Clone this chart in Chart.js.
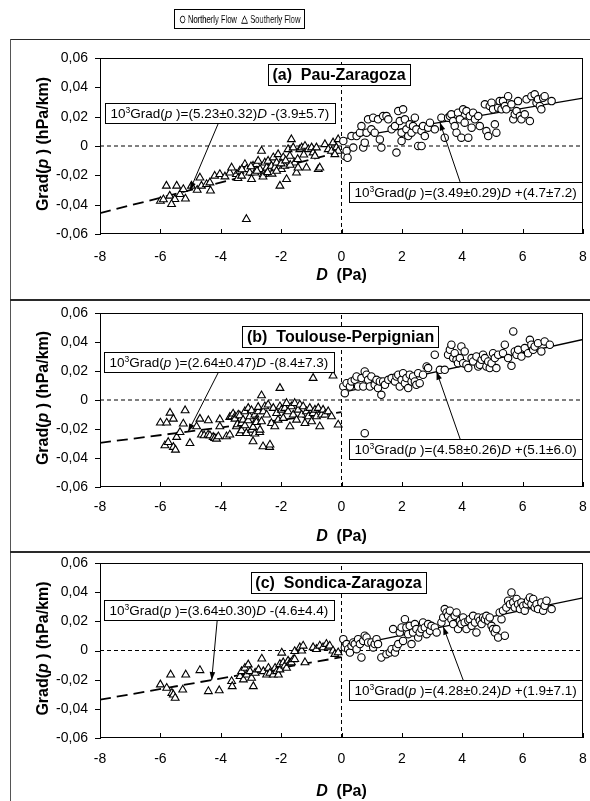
<!DOCTYPE html>
<html><head><meta charset="utf-8">
<script src="https://cdn.jsdelivr.net/npm/chart.js@4.4.1/dist/chart.umd.min.js"></script>
<style>
html,body{margin:0;padding:0;background:#fff;}
body{width:590px;height:801px;overflow:hidden;position:relative;font-family:"Liberation Sans",Arial,sans-serif;}
canvas{position:absolute;left:11px;display:block;}
.ln{position:absolute;background:#2a2a2a;}
#legend{position:absolute;left:174px;top:9px;width:129px;height:18px;border:1px solid #000;overflow:hidden;background:#fff;}
#lgtxt{position:absolute;left:50%;top:0;font-size:11px;line-height:18px;white-space:nowrap;color:#000;transform-origin:center center;will-change:transform;opacity:0.999;-webkit-font-smoothing:antialiased;}
#lgtxt svg{vertical-align:-0.5px;}
</style></head><body>
<canvas id="c0" width="579" height="259" style="top:40px"></canvas>
<canvas id="c1" width="579" height="249" style="top:302px"></canvas>
<canvas id="c2" width="579" height="247" style="top:554px"></canvas>
<div class="ln" style="left:10px;top:39px;width:580px;height:1px"></div>
<div class="ln" style="left:10px;top:39px;width:1px;height:762px;background:#555"></div>
<div class="ln" style="left:10px;top:299px;width:580px;height:2px"></div>
<div class="ln" style="left:10px;top:551px;width:580px;height:2px"></div>
<div id="legend"><span id="lgtxt"><svg width="9" height="9"><circle cx="4.5" cy="4.5" r="3.4" fill="#fff" stroke="#000" stroke-width="1"/></svg> Northerly Flow&nbsp; <svg width="10" height="9"><polygon points="5,0.8 9.3,8.3 0.7,8.3" fill="#fff" stroke="#000" stroke-width="1"/></svg> Southerly Flow</span></div>
<script>
// ---------------- data ----------------
const panelTitles = ['(a)  Pau-Zaragoza', '(b)  Toulouse-Perpignian', '(c)  Sondica-Zaragoza'];
const xTicks = [-8, -6, -4, -2, 0, 2, 4, 6, 8];
const xTickLabels = ['-8', '-6', '-4', '-2', '0', '2', '4', '6', '8'];
const yTicks = [-0.06, -0.04, -0.02, 0, 0.02, 0.04, 0.06];
const yTickLabels = ['-0,06', '-0,04', '-0,02', '0', '0,02', '0,04', '0,06'];

// regression coefficients (10^3 Grad = slope*D + const)
const northSlope = [3.49, 4.58, 4.28];
const northSlopeErr = [0.29, 0.26, 0.24];
const northConst = [4.7, 5.1, 1.9];
const northConstErr = [7.2, 6.0, 7.1];
const southSlope = [5.23, 2.64, 3.64];
const southSlopeErr = [0.32, 0.47, 0.30];
const southConst = [-3.9, -8.4, -4.6];
const southConstErr = [5.7, 7.3, 4.4];

// (a) Pau-Zaragoza  [D (Pa), Grad(p) (hPa/km)]
const northA = [[0.06,0.0034],[0.11,-0.0068],[0.17,-0.0034],[0.2,-0.008],[0.33,0.0068],[0.39,-0.0011],[0.5,0.0068],[0.61,0.0091],[0.66,0.0136],[0.72,-0.0011],[0.77,0.0023],[0.83,0.0091],[0.88,0.0182],[0.99,0.0114],[1.05,0.0193],[1.1,0.0091],[1.21,0.0182],[1.27,0.0045],[1.32,-0.0011],[1.38,0.0204],[1.49,0.0204],[1.55,0.0182],[1.66,0.0114],[1.77,0.0136],[1.82,-0.0045],[1.88,0.0238],[1.93,0.017],[1.99,0.0091],[1.99,0.0034],[2.04,0.025],[2.1,0.0182],[2.15,0.0114],[2.21,0.0068],[2.26,0.0148],[2.32,0.0091],[2.37,0.0136],[2.43,0.0193],[2.48,0.0114],[2.54,0],[2.65,0],[2.65,0.0102],[2.7,0.0136],[2.76,0.0068],[2.87,0.0125],[2.93,0.0159],[3.09,0.0114],[3.31,0.0193],[3.42,0.0057],[3.53,0.0193],[3.59,0.0204],[3.64,0.0216],[3.7,0.017],[3.75,0.0136],[3.81,0.0091],[3.86,0.0227],[3.92,0.0182],[3.97,0.0057],[4.03,0.025],[4.08,0.0159],[4.14,0.0238],[4.2,0.0057],[4.25,0.0204],[4.31,0.0125],[4.36,0.0227],[4.42,0.0182],[4.53,0.0204],[4.58,0.0136],[4.75,0.0284],[4.8,0.0102],[4.86,0.0068],[4.91,0.0272],[4.97,0.0295],[5.02,0.025],[5.08,0.0148],[5.13,0.0091],[5.19,0.0261],[5.24,0.0306],[5.3,0.025],[5.35,0.0306],[5.41,0.0272],[5.46,0.025],[5.52,0.034],[5.63,0.0284],[5.69,0.0182],[5.74,0.0216],[5.8,0.0238],[5.85,0.0306],[5.91,0.0204],[5.96,0.0182],[6.07,0.0216],[6.13,0.0318],[6.24,0.017],[6.29,0.034],[6.4,0.0352],[6.46,0.0295],[6.51,0.0318],[6.57,0.0272],[6.62,0.025],[6.68,0.0329],[6.73,0.034],[6.96,0.0306]];
const southA = [[-6.0,-0.0375],[-5.9,-0.0365],[-5.8,-0.0272],[-5.46,-0.0272],[-5.69,-0.034],[-5.52,-0.0363],[-5.35,-0.0329],[-5.63,-0.0397],[-5.24,-0.0295],[-5.17,-0.036],[-4.97,-0.0272],[-4.78,-0.030],[-4.69,-0.0216],[-4.64,-0.0272],[-4.47,-0.0261],[-4.36,-0.025],[-4.34,-0.0305],[-4.2,-0.0204],[-4.03,-0.0193],[-3.86,-0.0209],[-3.7,-0.0182],[-3.64,-0.0148],[-3.48,-0.0193],[-3.43,-0.022],[-3.37,-0.017],[-3.31,-0.0204],[-3.2,-0.0125],[-3.15,-0.0159],[-3.04,-0.0182],[-2.98,-0.0227],[-2.93,-0.0136],[-2.87,-0.0182],[-2.82,-0.0125],[-2.76,-0.0102],[-2.7,-0.0159],[-2.65,-0.0034],[-2.59,-0.0193],[-2.54,-0.0114],[-2.48,-0.0148],[-2.43,-0.0102],[-2.37,-0.017],[-2.32,-0.0136],[-2.26,-0.0079],[-2.21,-0.0148],[-2.15,-0.0114],[-2.1,-0.0057],[-2.04,-0.0272],[-1.99,-0.0159],[-1.93,-0.0079],[-1.88,-0.0136],[-1.82,-0.0227],[-1.77,-0.0023],[-1.71,-0.0068],[-1.66,0.0045],[-1.6,-0.0011],[-1.55,-0.0114],[-1.49,-0.0182],[-1.44,-0.0148],[-1.38,-0.0023],[-1.32,-0.0011],[-1.21,0],[-1.16,-0.0148],[-1.1,-0.0023],[-0.99,-0.0011],[-0.94,-0.0045],[-0.88,-0.0068],[-0.83,-0.0011],[-0.77,-0.0159],[-0.72,-0.0148],[-0.55,0.0011],[-0.44,-0.0023],[-0.33,-0.0034],[-0.28,0.0023],[-0.17,-0.0011],[-0.11,0.0045],[-0.11,-0.0034],[-0.22,-0.0057],[-3.15,-0.0499],[-2.6,-0.021],[-2.3,-0.019],[-2.0,-0.012],[-1.7,-0.013],[-2.8,-0.017],[-3.3,-0.016],[-3.0,-0.014],[-1.85,-0.01],[-1.45,-0.009],[-1.25,-0.006],[-2.45,-0.018],[-2.15,-0.017]];

// (b) Toulouse-Perpignian
const northB = [[0.06,0.0093],[0.11,0.0047],[0.17,0.0116],[0.28,0.0093],[0.33,0.0128],[0.44,0.0139],[0.5,0.0162],[0.55,0.0093],[0.66,0.0151],[0.72,0.0093],[0.77,0.0197],[0.83,0.0174],[0.88,0.0139],[0.94,0.0093],[0.99,0.0162],[1.1,0.0105],[1.16,0.0139],[1.21,0.0082],[1.27,0.0128],[1.32,0.0036],[1.38,0.0128],[1.44,0.0105],[1.55,0.0139],[1.66,0.0151],[1.77,0.0128],[1.82,0.0162],[1.88,0.0174],[1.93,0.0093],[1.99,0.0139],[2.04,0.0185],[2.1,0.0116],[2.15,0.0151],[2.21,0.0082],[2.26,0.0174],[2.32,0.0128],[2.37,0.0162],[2.43,0.0128],[2.48,0.0105],[2.54,0.0185],[2.59,0.0116],[2.7,0.0174],[2.82,0.0231],[2.87,0.022],[3.09,0.0312],[3.26,0.0208],[3.42,0.0208],[3.53,0.0312],[3.59,0.0346],[3.64,0.0381],[3.7,0.0289],[3.75,0.0323],[3.81,0.0277],[3.86,0.0254],[3.92,0.0289],[3.97,0.0369],[4.03,0.0254],[4.08,0.0335],[4.14,0.0243],[4.2,0.022],[4.31,0.0289],[4.36,0.0266],[4.47,0.03],[4.53,0.0231],[4.58,0.0243],[4.64,0.0277],[4.69,0.0312],[4.75,0.0289],[4.8,0.0231],[4.86,0.0266],[4.91,0.022],[4.97,0.0254],[5.02,0.0323],[5.08,0.0289],[5.13,0.022],[5.19,0.0312],[5.35,0.0323],[5.41,0.0381],[5.52,0.0289],[5.63,0.0236],[5.69,0.0473],[5.74,0.0335],[5.8,0.0312],[5.85,0.0346],[5.96,0.03],[6.07,0.0358],[6.18,0.0323],[6.24,0.0415],[6.29,0.0381],[6.35,0.0346],[6.4,0.0369],[6.51,0.0392],[6.62,0.0335],[6.73,0.0404],[6.9,0.0381],[0.77,-0.0229]];
const southB = [[-6.0,-0.0157],[-5.79,-0.0157],[-5.68,-0.0089],[-5.57,-0.013],[-5.85,-0.0314],[-5.74,-0.0291],[-5.57,-0.0325],[-5.5,-0.0344],[-5.46,-0.0256],[-5.35,-0.0222],[-5.24,-0.0164],[-5.18,-0.0072],[-5.02,-0.0298],[-4.8,-0.0183],[-4.69,-0.013],[-4.64,-0.024],[-4.55,-0.0245],[-4.42,-0.024],[-4.41,-0.0141],[-4.36,-0.0245],[-4.25,-0.0256],[-4.2,-0.0263],[-4.14,-0.0268],[-4.08,-0.0252],[-4.03,-0.0134],[-4.03,-0.0183],[-3.81,-0.0252],[-3.7,-0.024],[-3.7,-0.0118],[-3.64,-0.0114],[-3.59,-0.0095],[-3.53,-0.0114],[-3.53,-0.013],[-3.48,-0.0183],[-3.45,-0.0169],[-3.42,-0.0102],[-3.37,-0.0229],[-3.37,-0.0107],[-3.31,-0.016],[-3.31,-0.021],[-3.26,-0.0137],[-3.2,-0.0079],[-3.2,-0.0176],[-3.15,-0.0229],[-3.09,-0.0056],[-3.09,-0.0141],[-3.04,-0.0114],[-2.98,-0.0206],[-2.98,-0.0072],[-2.93,-0.0286],[-2.93,-0.0187],[-2.87,-0.0102],[-2.87,-0.0233],[-2.82,-0.0137],[-2.82,-0.0153],[-2.76,-0.0079],[-2.76,-0.0049],[-2.71,-0.0222],[-2.7,-0.0206],[-2.65,-0.0148],[-2.65,0.0031],[-2.6,-0.0321],[-2.59,-0.0079],[-2.54,-0.0045],[-2.48,-0.0102],[-2.43,-0.0033],[-2.38,-0.0325],[-2.37,-0.0309],[-2.32,-0.016],[-2.26,-0.0056],[-2.21,-0.0183],[-2.15,-0.0091],[-2.1,-0.0137],[-2.04,-0.0045],[-2.04,0.0082],[-1.99,-0.0068],[-1.93,-0.0125],[-1.88,-0.0056],[-1.82,-0.0022],[-1.77,-0.0079],[-1.71,-0.0183],[-1.66,-0.0045],[-1.6,-0.0102],[-1.55,-0.0022],[-1.49,-0.0137],[-1.44,-0.0068],[-1.38,-0.0033],[-1.32,-0.0102],[-1.27,-0.0045],[-1.21,-0.016],[-1.16,-0.0079],[-1.1,-0.0114],[-1.05,-0.0056],[-0.99,-0.0148],[-0.94,-0.0091],[-0.94,0.0151],[-0.88,-0.0068],[-0.83,-0.0114],[-0.77,-0.0056],[-0.72,-0.0183],[-0.66,-0.0102],[-0.61,-0.0068],[-0.55,-0.0102],[-0.44,-0.0079],[-0.33,-0.0114],[-0.28,0.0167],[-0.11,-0.0171]];

// (c) Sondica-Zaragoza
const northC = [[0.06,0.0078],[0.11,0.0021],[0.17,0.0044],[0.22,0.0009],[0.28,-0.0014],[0.33,0.0032],[0.39,0.0055],[0.44,0.0044],[0.5,0.0009],[0.55,0.0078],[0.61,0.0044],[0.66,-0.0048],[0.72,0.0066],[0.77,0.0101],[0.83,0.0089],[0.88,0.0055],[0.99,0.0055],[1.05,0.0021],[1.1,0.0044],[1.16,0.0078],[1.21,0.0044],[1.32,-0.0048],[1.49,-0.0025],[1.6,-0.0014],[1.66,0.0009],[1.71,0.0147],[1.77,-0.0014],[1.82,0.0021],[1.88,0.0044],[1.93,0.0124],[1.99,0.0158],[2.04,0.0066],[2.1,0.0215],[2.15,0.0158],[2.21,0.0112],[2.26,0.0169],[2.32,0.0044],[2.37,0.0124],[2.43,0.0181],[2.48,0.0147],[2.54,0.0089],[2.59,0.0124],[2.65,0.0147],[2.7,0.0192],[2.76,0.0158],[2.82,0.0112],[2.87,0.0181],[2.93,0.0135],[2.98,0.0169],[3.09,0.0158],[3.15,0.0124],[3.31,0.0192],[3.37,0.0227],[3.42,0.0284],[3.48,0.0261],[3.53,0.0238],[3.59,0.0273],[3.64,0.0215],[3.7,0.0181],[3.75,0.0238],[3.81,0.0261],[3.86,0.0147],[3.92,0.0204],[3.97,0.0181],[4.03,0.0227],[4.08,0.0192],[4.14,0.0147],[4.2,0.0204],[4.25,0.0215],[4.31,0.0169],[4.36,0.0238],[4.42,0.0192],[4.47,0.0124],[4.53,0.0227],[4.58,0.0204],[4.64,0.0181],[4.69,0.0227],[4.75,0.0215],[4.8,0.0238],[4.86,0.0204],[4.91,0.0227],[4.97,0.0169],[5.02,0.0147],[5.08,0.0124],[5.13,0.0147],[5.19,0.0089],[5.3,0.0215],[5.41,0.0101],[5.24,0.0261],[5.35,0.0273],[5.46,0.0295],[5.52,0.0341],[5.58,0.0318],[5.63,0.0398],[5.69,0.033],[5.74,0.0295],[5.8,0.0353],[5.85,0.0318],[5.91,0.0284],[5.96,0.033],[6.02,0.0307],[6.07,0.0273],[6.13,0.0318],[6.18,0.0341],[6.24,0.0364],[6.29,0.0318],[6.35,0.0353],[6.4,0.0295],[6.46,0.0318],[6.51,0.0284],[6.62,0.033],[6.68,0.0273],[6.73,0.0307],[6.79,0.0341],[6.96,0.0284]];
const southC = [[-6.0,-0.0234],[-5.79,-0.0257],[-5.66,-0.0166],[-5.62,-0.0292],[-5.57,-0.0303],[-5.51,-0.0326],[-5.26,-0.0269],[-5.16,-0.0166],[-4.69,-0.0136],[-4.41,-0.028],[-4.05,-0.0274],[-3.64,-0.0211],[-3.62,-0.0246],[-3.36,-0.0177],[-3.31,-0.0143],[-3.25,-0.02],[-3.2,-0.012],[-3.14,-0.0166],[-3.09,-0.0097],[-3.03,-0.0143],[-2.98,-0.0189],[-2.92,-0.0246],[-2.86,-0.0154],[-2.75,-0.0131],[-2.64,-0.0057],[-2.59,-0.0143],[-2.48,-0.0166],[-2.42,-0.012],[-2.37,-0.0154],[-2.26,-0.0166],[-2.2,-0.012],[-2.15,-0.0143],[-2.09,-0.0166],[-2.04,-0.0131],[-2.04,-0.0094],[-1.98,-0.0016],[-1.93,-0.0097],[-1.93,-0.0082],[-1.88,-0.0105],[-1.82,-0.012],[-1.77,-0.0071],[-1.71,-0.0085],[-1.66,-0.0082],[-1.6,-0.0062],[-1.55,-0.0005],[-1.55,-0.006],[-1.38,0.0021],[-1.32,-0.0002],[-1.27,0.0032],[-1.21,-0.0082],[-0.94,0.0021],[-0.83,0.0009],[-0.72,0.0032],[-0.61,0.0021],[-0.5,0.0044],[-0.44,0.0021],[-0.39,0.0032],[-0.28,-0.0002],[-0.22,-0.0025],[-0.11,-0.0014]];

const northSets = [northA, northB, northC];
const southSets = [southA, southB, southC];

// ---------------- layout / style (not data) ----------------
const layouts = [
  {padTop:18, xAxisH:65, xLabelDy:23, xTitleDy:40, titleAt:[-0.08,0.0556], sBox:[-7.83,0.0293], nBox:[0.24,-0.0245], sArrow:[-4.09,-5.02], nArrow:[3.93,3.26]},
  {padTop:11, xAxisH:64, xLabelDy:20, xTitleDy:48, titleAt:[-0.03,0.0507], sBox:[-7.87,0.0334], nBox:[0.24,-0.0272], sArrow:[-4.09,-5.08], nArrow:[3.93,3.15]},
  {padTop:9,  xAxisH:63, xLabelDy:21, xTitleDy:52, titleAt:[-0.1,0.054],  sBox:[-7.87,0.0348], nBox:[0.24,-0.0203], sArrow:[-4.12,-4.3],  nArrow:[4.03,3.37]}
];
const FAM = '"Liberation Sans", Arial, Helvetica, sans-serif';
const fnt = (size, style) => (style ? style + ' ' : '') + size + 'px ' + FAM;

function runsWidth(ctx, runs){ let w = 0; for (const r of runs){ ctx.font = r.f; w += ctx.measureText(r.t).width; } return w; }
function drawRuns(ctx, runs, x, y){ for (const r of runs){ ctx.font = r.f; ctx.fillText(r.t, x, y + (r.dy || 0)); x += ctx.measureText(r.t).width; } }

function eqRuns(s, se, c, ce){
  const sl = '(' + s.toFixed(2) + '±' + se.toFixed(2) + ')';
  const cs = (c < 0 ? '-' : '+') + '(' + Math.abs(c).toFixed(1) + '±' + ce.toFixed(1) + ')';
  return [
    {t:'10', f:fnt(13.5)}, {t:'3', f:fnt(8.5), dy:-5.5}, {t:'Grad(', f:fnt(13.5)},
    {t:'p', f:fnt(13.5,'italic')}, {t:' )=' + sl, f:fnt(13.5)},
    {t:'D', f:fnt(13.5,'italic')}, {t:' ' + cs, f:fnt(13.5)}
  ];
}

function arrow(ctx, x1, y1, x2, y2){
  ctx.beginPath(); ctx.moveTo(x1, y1); ctx.lineTo(x2, y2); ctx.lineWidth = 1; ctx.strokeStyle = '#000'; ctx.stroke();
  const a = Math.atan2(y2 - y1, x2 - x1), L = 8, W = 2.8;
  ctx.beginPath();
  ctx.moveTo(x2, y2);
  ctx.lineTo(x2 - L*Math.cos(a) + W*Math.sin(a), y2 - L*Math.sin(a) - W*Math.cos(a));
  ctx.lineTo(x2 - L*Math.cos(a) - W*Math.sin(a), y2 - L*Math.sin(a) + W*Math.cos(a));
  ctx.closePath(); ctx.fillStyle = '#000'; ctx.fill();
}

function makeDecor(i){
  const P = layouts[i];
  const fitN = D => (northSlope[i]*D + northConst[i]) / 1000;
  const fitS = D => (southSlope[i]*D + southConst[i]) / 1000;
  return {
    id: 'decor' + i,
    afterDatasetsDraw(chart){
      const ctx = chart.ctx, ca = chart.chartArea, xs = chart.scales.x, ys = chart.scales.y;
      ctx.save();
      ctx.fillStyle = '#000'; ctx.strokeStyle = '#000'; ctx.lineWidth = 1;
      const L = Math.round(ca.left), T = Math.round(ca.top), R = Math.round(ca.right), B = Math.round(ca.bottom);
      ctx.strokeRect(L + 0.5, T + 0.5, R - L - 1, B - T - 1);
      ctx.beginPath();
      yTicks.forEach(v => { const py = Math.round(ys.getPixelForValue(v)) + 0.5; ctx.moveTo(L - 5, py); ctx.lineTo(L + 1, py); });
      xTicks.forEach(v => { const px = Math.round(xs.getPixelForValue(v)) + 0.5; ctx.moveTo(px, B); ctx.lineTo(px, B - 5); });
      ctx.stroke();
      ctx.font = fnt(14); ctx.textBaseline = 'middle';
      ctx.textAlign = 'right';
      yTicks.forEach((v, k) => ctx.fillText(yTickLabels[k], L - 12, ys.getPixelForValue(v)));
      ctx.textAlign = 'center';
      xTicks.forEach((v, k) => ctx.fillText(xTickLabels[k], xs.getPixelForValue(v), B + P.xLabelDy));
      ctx.textAlign = 'left'; ctx.textBaseline = 'alphabetic';
      const xt = [{t:'D', f:fnt(16,'bold italic')}, {t:'  (Pa)', f:fnt(16,'bold')}];
      const xw = runsWidth(ctx, xt);
      drawRuns(ctx, xt, (L + R)/2 - xw/2, B + P.xTitleDy + 6);
      const yt = [{t:'Grad(', f:fnt(16,'bold')}, {t:'p', f:fnt(16,'bold italic')}, {t:' ) (hPa/km)', f:fnt(16,'bold')}];
      const yw = runsWidth(ctx, yt);
      ctx.save(); ctx.translate(31, (T + B)/2 - 2); ctx.rotate(-Math.PI/2);
      drawRuns(ctx, yt, -yw/2, 6); ctx.restore();
      const tr = [{t:panelTitles[i], f:fnt(16,'bold')}];
      const tw = runsWidth(ctx, tr) + 9, th = 21;
      const tx = xs.getPixelForValue(P.titleAt[0]) - tw/2, ty = ys.getPixelForValue(P.titleAt[1]);
      ctx.fillStyle = '#fff'; ctx.fillRect(tx, ty, tw, th);
      ctx.strokeRect(Math.round(tx) + 0.5, Math.round(ty) + 0.5, Math.round(tw), th);
      ctx.fillStyle = '#000'; drawRuns(ctx, tr, tx + 4.5, ty + 16);
      const boxes = [
        {runs: eqRuns(southSlope[i], southSlopeErr[i], southConst[i], southConstErr[i]), at: P.sBox, arrow: P.sArrow, fit: fitS, fromBottom: true},
        {runs: eqRuns(northSlope[i], northSlopeErr[i], northConst[i], northConstErr[i]), at: P.nBox, arrow: P.nArrow, fit: fitN, fromBottom: false}
      ];
      boxes.forEach(b => {
        const w = runsWidth(ctx, b.runs) + 11, h = 20;
        const bx = Math.round(xs.getPixelForValue(b.at[0])), by = Math.round(ys.getPixelForValue(b.at[1]));
        ctx.fillStyle = '#fff'; ctx.fillRect(bx, by, w, h);
        ctx.strokeStyle = '#000'; ctx.strokeRect(bx + 0.5, by + 0.5, Math.round(w), h);
        ctx.fillStyle = '#000'; drawRuns(ctx, b.runs, bx + 5.5, by + 15);
        const ax = xs.getPixelForValue(b.arrow[0]);
        const ay = b.fromBottom ? by + h + 1 : by;
        arrow(ctx, ax, ay, xs.getPixelForValue(b.arrow[1]), ys.getPixelForValue(b.fit(b.arrow[1])));
      });
      ctx.restore();
    }
  };
}

function makePanel(i){
  const P = layouts[i];
  const fitN = D => (northSlope[i]*D + northConst[i]) / 1000;
  const fitS = D => (southSlope[i]*D + southConst[i]) / 1000;
  const lineDs = (pts, w, dash, order) => ({data: pts, showLine: true, pointRadius: 0, borderColor: '#000', borderWidth: w, borderDash: dash, order: order, fill: false});
  new Chart(document.getElementById('c' + i), {
    type: 'scatter',
    data: { datasets: [
      {label: 'Northerly Flow', data: northSets[i].map(p => ({x: p[0], y: p[1]})), pointStyle: 'circle', pointRadius: 3.7,
        pointBackgroundColor: '#fff', pointBorderColor: '#000', pointBorderWidth: 1.1, order: 0},
      {label: 'Southerly Flow', data: southSets[i].map(p => ({x: p[0], y: p[1]})), pointStyle: 'triangle', pointRadius: 4.5,
        pointBackgroundColor: '#fff', pointBorderColor: '#000', pointBorderWidth: 1.1, order: 0},
      lineDs([{x: 0, y: fitN(0)}, {x: 8, y: fitN(8)}], 1.3, [], 1),
      lineDs([{x: -8, y: fitS(-8)}, {x: 0, y: fitS(0)}], 1.8, [11, 6], 1),
      lineDs([{x: -8, y: 0}, {x: 8, y: 0}], 1, [4, 3], 2),
      lineDs([{x: 0, y: -0.06}, {x: 0, y: 0.06}], 1, [4, 3], 2)
    ]},
    options: {
      responsive: false, animation: false, events: [],
      layout: {padding: {top: P.padTop, right: 7, left: 0, bottom: 0}},
      scales: {
        x: {type: 'linear', min: -8, max: 8, afterFit(s){ s.height = P.xAxisH; },
            afterBuildTicks(s){ s.ticks = xTicks.map(v => ({value: v})); },
            ticks: {display: false}, grid: {display: false}, border: {display: false}},
        y: {type: 'linear', min: -0.06, max: 0.06, afterFit(s){ s.width = 89; },
            afterBuildTicks(s){ s.ticks = yTicks.map(v => ({value: v})); },
            ticks: {display: false}, grid: {display: false}, border: {display: false}}
      },
      plugins: {legend: {display: false}, tooltip: {enabled: false}}
    },
    plugins: [makeDecor(i)]
  });
}
[0, 1, 2].forEach(makePanel);

// fit the condensed legend text into its box
(function(){
  const t = document.getElementById('lgtxt');
  const k = 121 / t.offsetWidth;
  t.style.transform = 'translateX(-50%) scaleX(' + k.toFixed(3) + ')';
})();
</script>
</body></html>
